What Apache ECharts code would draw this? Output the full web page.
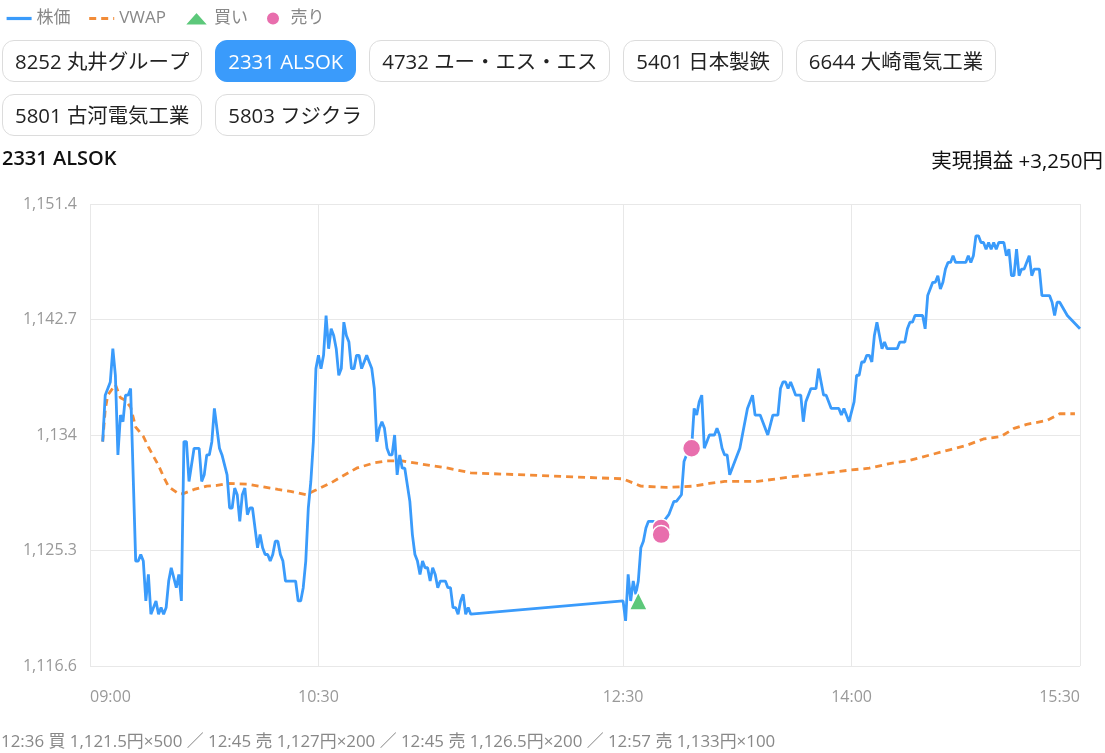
<!DOCTYPE html>
<html>
<head>
<meta charset="utf-8">
<script src="https://cdn.jsdelivr.net/npm/echarts@6/dist/echarts.min.js"></script>
<style>
html,body{margin:0;padding:0;width:1105px;height:753px;overflow:hidden;background:#fff;
  font-family:"Open Sans","Noto Sans CJK JP",sans-serif;font-kerning:none;}
#chart{position:absolute;left:0;top:0;width:1105px;height:753px;}
#btns{position:absolute;left:2px;top:40px;width:1100px;display:flex;flex-wrap:wrap;gap:12px 13px;z-index:2;}
.btn{box-sizing:border-box;height:42px;padding:0 12px;border:1px solid #dcdcdc;border-radius:12px;
  background:#fff;color:#222;font-size:20.4px;line-height:40px;white-space:nowrap;}
.btn.active{background:#3a9bfb;border-color:#3a9bfb;color:#fff;}
#title{position:absolute;left:2px;top:144px;font-size:20px;font-weight:600;color:#111;z-index:2;}
#pnl{position:absolute;right:2px;top:144px;font-size:20.5px;color:#111;z-index:2;}
#foot{position:absolute;left:1px;top:727px;font-size:16.9px;color:#888;white-space:nowrap;z-index:2;}
</style>
</head>
<body>
<div id="chart"></div>
<div id="btns"></div>
<div id="title"></div>
<div id="pnl"></div>
<div id="foot"></div>
<script>
// ---- data ----
const symbols = ['8252 丸井グループ','2331 ALSOK','4732 ユー・エス・エス','5401 日本製鉄','6644 大崎電気工業','5801 古河電気工業','5803 フジクラ'];
const activeSymbol = '2331 ALSOK';
const realizedPnL = '実現損益 +3,250円';

const xTickLabels = ['09:00','10:30','12:30','14:00','15:30'];
const yMin = 1116.6, yMax = 1151.4, yStep = 8.7;

const price = [
['09:05',1133.5],['09:06',1137.0],['09:08',1138.0],['09:09',1140.5],['09:10',1138.5],['09:11',1132.5],
['09:12',1135.5],['09:13',1135.0],['09:14',1137.0],['09:15',1137.0],['09:16',1137.5],['09:18',1124.5],
['09:19',1124.5],['09:20',1125.0],['09:21',1124.5],['09:22',1121.5],['09:23',1123.5],['09:24',1120.5],
['09:26',1121.5],['09:27',1120.5],['09:28',1121.0],['09:29',1120.5],['09:30',1121.0],['09:31',1123.0],
['09:32',1124.0],['09:34',1122.5],['09:35',1123.5],['09:36',1121.5],['09:37',1133.5],['09:38',1133.5],
['09:39',1130.5],['09:41',1133.0],['09:43',1133.0],['09:44',1130.5],['09:45',1131.0],['09:46',1132.5],
['09:47',1132.5],['09:48',1133.5],['09:49',1136.0],['09:51',1133.0],['09:52',1132.5],['09:54',1131.0],
['09:55',1128.5],['09:56',1128.5],['09:57',1130.0],['09:58',1129.5],['09:59',1127.5],['10:00',1129.5],
['10:01',1130.0],['10:02',1128.0],['10:03',1128.5],['10:04',1128.5],['10:06',1125.5],['10:07',1126.5],
['10:08',1125.5],['10:09',1125.0],['10:10',1125.0],['10:11',1124.5],['10:12',1125.0],['10:13',1126.0],
['10:14',1126.0],['10:15',1125.0],['10:16',1124.5],['10:17',1123.0],['10:21',1123.0],['10:22',1121.5],
['10:23',1121.5],['10:24',1122.5],['10:25',1124.5],['10:26',1128.5],['10:27',1130.5],['10:28',1133.5],
['10:29',1139.0],['10:30',1140.0],['10:31',1139.0],['10:32',1140.0],['10:33',1143.0],['10:34',1140.5],
['10:35',1142.0],['10:36',1141.5],['10:37',1140.5],['10:38',1138.5],['10:39',1139.0],['10:40',1142.5],
['10:41',1141.5],['10:42',1141.0],['10:43',1139.0],['10:44',1139.0],['10:45',1140.0],['10:46',1140.0],
['10:47',1139.0],['10:48',1139.5],['10:49',1140.0],['10:50',1139.5],['10:51',1139.0],['10:52',1137.5],
['10:53',1133.5],['10:54',1134.5],['10:55',1135.0],['10:56',1134.5],['10:57',1133.0],['10:58',1132.5],
['10:59',1132.5],['11:00',1134.0],['11:01',1131.0],['11:02',1132.5],['11:03',1131.5],['11:04',1131.5],
['11:06',1129.0],['11:07',1126.5],['11:08',1125.0],['11:09',1124.5],['11:10',1123.5],['11:11',1124.5],
['11:12',1124.0],['11:13',1124.0],['11:14',1123.0],['11:15',1124.0],['11:16',1123.5],['11:17',1122.5],
['11:18',1123.0],['11:20',1123.0],['11:21',1122.5],['11:22',1122.5],['11:23',1121.0],['11:24',1121.0],
['11:25',1120.5],['11:26',1121.5],['11:27',1122.0],['11:28',1120.5],['11:29',1121.0],['11:30',1120.5],
['12:30',1121.5],['12:31',1120.0],['12:32',1123.5],['12:33',1121.5],['12:34',1123.0],['12:35',1122.0],
['12:36',1123.0],['12:37',1125.5],['12:38',1126.0],['12:39',1127.0],['12:40',1127.5],['12:42',1127.5],
['12:44',1127.0],['12:46',1127.5],['12:48',1128.0],['12:50',1129.0],['12:51',1129.0],['12:53',1129.5],
['12:54',1132.0],['12:56',1133.0],['12:57',1133.0],['12:58',1136.0],['12:59',1135.5],['13:00',1136.5],
['13:01',1137.0],['13:02',1133.0],['13:03',1133.5],['13:04',1134.0],['13:06',1134.0],['13:07',1134.5],
['13:08',1134.0],['13:09',1133.0],['13:10',1132.5],['13:11',1132.5],['13:12',1131.0],['13:16',1133.0],
['13:19',1136.0],['13:21',1137.0],['13:22',1135.5],['13:24',1135.5],['13:27',1134.0],['13:29',1135.5],
['13:31',1135.5],['13:32',1137.5],['13:33',1138.0],['13:34',1138.0],['13:35',1137.5],['13:36',1138.0],
['13:37',1137.5],['13:38',1137.0],['13:40',1137.0],['13:41',1135.0],['13:42',1136.5],['13:44',1137.5],
['13:46',1137.5],['13:47',1139.0],['13:48',1138.0],['13:49',1137.0],['13:50',1137.0],['13:52',1136.0],
['13:53',1136.0],['13:55',1136.0],['13:56',1135.5],['13:57',1136.0],['13:58',1135.5],['13:59',1135.0],
['14:01',1136.5],['14:02',1138.5],['14:03',1138.5],['14:04',1139.5],['14:05',1139.5],['14:06',1140.0],
['14:07',1140.0],['14:08',1139.5],['14:09',1141.5],['14:10',1142.5],['14:11',1141.5],['14:12',1140.5],
['14:13',1141.0],['14:14',1140.5],['14:18',1140.5],['14:19',1141.0],['14:21',1141.0],['14:22',1142.0],
['14:23',1142.5],['14:24',1142.5],['14:25',1143.0],['14:28',1143.0],['14:29',1142.0],['14:30',1144.5],
['14:32',1145.5],['14:33',1145.5],['14:34',1146.0],['14:35',1145.0],['14:36',1145.5],['14:37',1146.5],
['14:38',1147.0],['14:39',1147.0],['14:40',1147.5],['14:41',1147.0],['14:43',1147.0],['14:45',1147.0],
['14:46',1147.5],['14:47',1147.0],['14:48',1147.5],['14:49',1149.0],['14:50',1149.0],['14:51',1148.5],
['14:52',1148.5],['14:53',1148.0],['14:54',1148.5],['14:55',1148.0],['14:56',1148.5],['14:57',1148.0],
['14:58',1148.5],['14:59',1148.5],['15:00',1148.5],['15:01',1147.5],['15:02',1148.0],['15:03',1146.0],
['15:04',1146.0],['15:05',1148.0],['15:06',1146.0],['15:07',1146.5],['15:08',1146.5],['15:10',1147.5],
['15:11',1146.0],['15:12',1146.5],['15:14',1146.5],['15:15',1144.5],['15:18',1144.5],['15:19',1144.0],
['15:20',1143.0],['15:21',1144.0],['15:22',1144.0],['15:25',1143.0],['15:30',1142.0]
];

const vwap = [
['09:05',1133.5],['09:06',1135.9],['09:07',1137.0],['09:10',1137.8],['09:12',1136.8],['09:14',1136.6],
['09:16',1136.1],['09:18',1134.6],['09:21',1133.9],['09:23',1133.1],['09:27',1131.7],['09:29',1130.85],
['09:31',1130.1],['09:35',1129.55],['09:37',1129.6],['09:41',1129.9],['09:46',1130.15],['09:50',1130.2],
['09:54',1130.35],['10:02',1130.3],['10:08',1130.1],['10:14',1129.9],['10:19',1129.75],['10:25',1129.5],
['10:29',1129.85],['10:35',1130.4],['10:39',1130.85],['10:45',1131.5],['10:52',1131.9],['10:57',1132.05],
['11:03',1132.05],['11:11',1131.8],['11:21',1131.5],['11:30',1131.15],['12:30',1130.7],['12:37',1130.15],
['12:47',1130.05],['12:58',1130.15],['13:04',1130.35],['13:10',1130.5],['13:23',1130.5],['13:36',1130.85],
['13:49',1131.1],['13:59',1131.35],['14:07',1131.5],['14:15',1131.85],['14:22',1132.05],['14:31',1132.5],
['14:39',1132.9],['14:45',1133.2],['14:52',1133.7],['14:59',1133.9],['15:04',1134.5],['15:09',1134.8],
['15:17',1135.1],['15:22',1135.6],['15:28',1135.6]
];

const tradeTimes  = ['12:36','12:45','12:45','12:57'];
const tradeSides  = ['買','売','売','売'];
const tradePrices = [1121.5,1127,1126.5,1133];
const tradeQty    = [500,200,200,100];

// ---- helpers ----
const ts = hm => { const p = hm.split(':').map(Number); return new Date(2024,0,1,p[0],p[1]).getTime(); };
const pad = n => (n<10?'0':'')+n;
const fmtTime = v => { const d = new Date(v); return pad(d.getHours())+':'+pad(d.getMinutes()); };
const fmtNum = v => Number((+v).toFixed(1)).toLocaleString('en-US',{maximumFractionDigits:1});

// ---- HTML parts ----
const btns = document.getElementById('btns');
symbols.forEach(s => {
  const b = document.createElement('div');
  b.className = 'btn' + (s === activeSymbol ? ' active' : '');
  b.textContent = s;
  btns.appendChild(b);
});
document.getElementById('title').textContent = activeSymbol;
document.getElementById('pnl').textContent = realizedPnL;
document.getElementById('foot').textContent = tradeTimes.map((t,i) =>
  t + ' ' + tradeSides[i] + ' ' + fmtNum(tradePrices[i]) + '円×' + tradeQty[i]).join(' ／ ');

// ---- chart ----
const buyPts = [], sellPts = [];
tradeTimes.forEach((t,i) => (tradeSides[i]==='買'?buyPts:sellPts).push([ts(t), tradePrices[i]]));
const xTicks = xTickLabels.map(ts);

const chart = echarts.init(document.getElementById('chart'));
chart.setOption({
  animation: false,
  textStyle: { fontFamily: '"Open Sans","Noto Sans CJK JP",sans-serif' },
  color: ['#3a9bfb','#f28c38','#5cc87a','#e86ead'],
  legend: {
    left: 0, top: 5, itemWidth: 25, itemHeight: 14, itemGap: 17,
    textStyle: { color: '#888', fontSize: 17 },
    data: [
      { name: '株価', itemStyle: { opacity: 0 }, lineStyle: { width: 3.2 } },
      { name: 'VWAP', itemStyle: { opacity: 0 }, lineStyle: { width: 3.2 } },
      '買い', '売り'
    ]
  },
  grid: { left: 90, right: 25, top: 204, bottom: 87 },
  xAxis: {
    type: 'value', min: ts('09:00'), max: ts('15:30'),
    axisLine: { show: false },
    axisTick: { show: false, customValues: xTicks },
    axisLabel: { customValues: xTicks, formatter: fmtTime, color: '#999', fontSize: 16, margin: 23,
                 alignMinLabel: 'left', alignMaxLabel: 'right', hideOverlap: false },
    splitLine: { show: true, lineStyle: { color: '#e8e8e8' } }
  },
  yAxis: {
    type: 'value', min: yMin, max: yMax, interval: yStep,
    axisLine: { show: false }, axisTick: { show: false },
    axisLabel: { formatter: fmtNum, color: '#999', fontSize: 16, margin: 13 },
    splitLine: { lineStyle: { color: '#e8e8e8' } }
  },
  series: [
    { name: '株価', type: 'line', symbol: 'none', z: 3,
      data: price.map(d => [ts(d[0]), d[1]]),
      lineStyle: { width: 2.8, color: '#3a9bfb' }, itemStyle: { color: '#3a9bfb' } },
    { name: 'VWAP', type: 'line', symbol: 'none', z: 2,
      data: vwap.map(d => [ts(d[0]), d[1]]),
      lineStyle: { width: 2.8, type: [7,5], color: '#f28c38' }, itemStyle: { color: '#f28c38' } },
    { name: '買い', type: 'scatter', symbol: 'triangle', symbolSize: 18, z: 5,
      data: buyPts, itemStyle: { color: '#5cc87a', borderColor: '#fff', borderWidth: 1.5, opacity: 1 } },
    { name: '売り', type: 'scatter', symbol: 'circle', symbolSize: 18, z: 5,
      data: sellPts, itemStyle: { color: '#e86ead', borderColor: '#fff', borderWidth: 1.5, opacity: 1 } }
  ]
});
</script>
</body>
</html>
